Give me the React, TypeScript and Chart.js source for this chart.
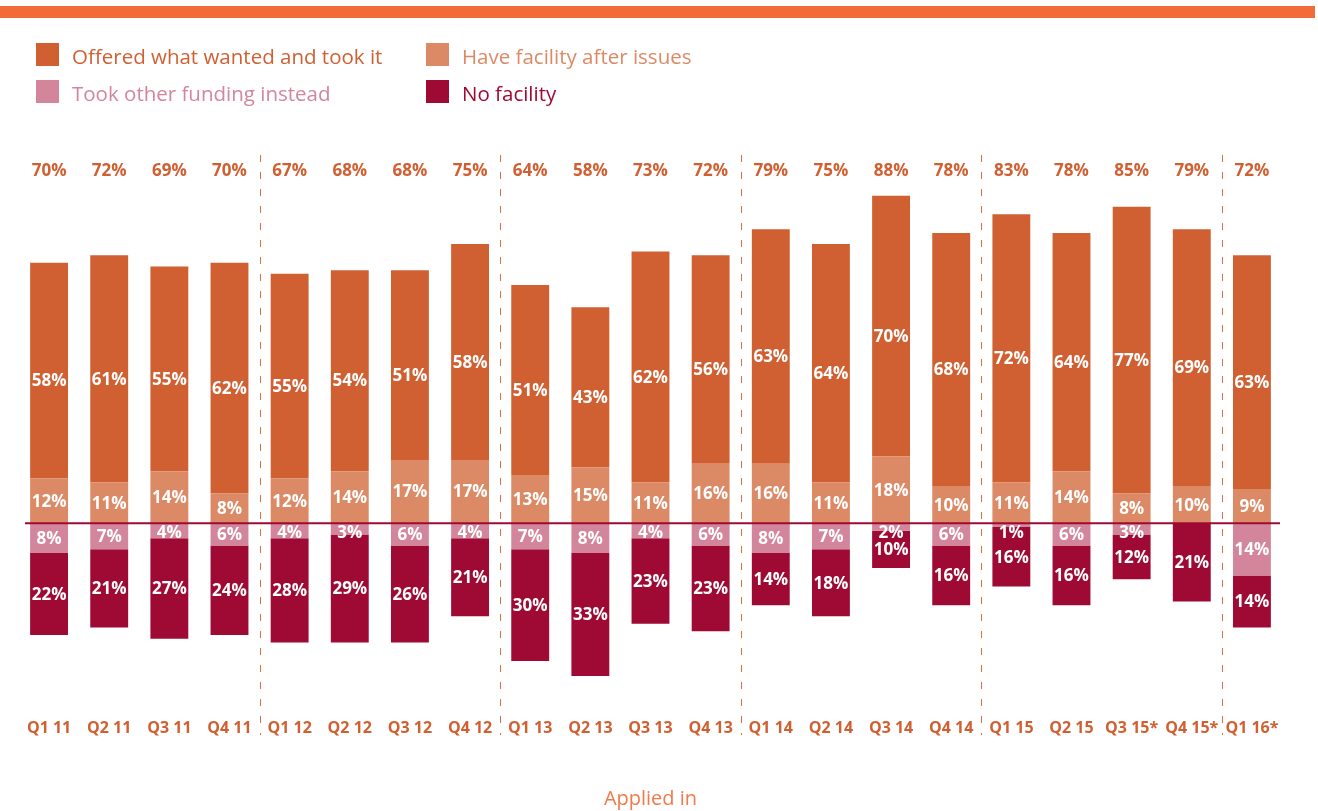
import React, { useEffect, useRef } from "react";
import { Chart, registerables } from "chart.js";

Chart.register(...registerables);

const quarters = [
  "Q1 11", "Q2 11", "Q3 11", "Q4 11",
  "Q1 12", "Q2 12", "Q3 12", "Q4 12",
  "Q1 13", "Q2 13", "Q3 13", "Q4 13",
  "Q1 14", "Q2 14", "Q3 14", "Q4 14",
  "Q1 15", "Q2 15", "Q3 15*", "Q4 15*",
  "Q1 16*",
];
const offeredTook = [58, 61, 55, 62, 55, 54, 51, 58, 51, 43, 62, 56, 63, 64, 70, 68, 72, 64, 77, 69, 63];
const facilityAfterIssues = [12, 11, 14, 8, 12, 14, 17, 17, 13, 15, 11, 16, 16, 11, 18, 10, 11, 14, 8, 10, 9];
const otherFunding = [8, 7, 4, 6, 4, 3, 6, 4, 7, 8, 4, 6, 8, 7, 2, 6, 1, 6, 3, 0, 14];
const noFacility = [22, 21, 27, 24, 28, 29, 26, 21, 30, 33, 23, 23, 14, 18, 10, 16, 16, 16, 12, 21, 14];
const totals = [70, 72, 69, 70, 67, 68, 68, 75, 64, 58, 73, 72, 79, 75, 88, 78, 83, 78, 85, 79, 72];
const yearBreaksAfter = [3, 7, 11, 15, 19];

const C_OFFERED = "#D06032";
const C_FACILITY = "#DC8966";
const C_OTHER = "#D3869B";
const C_NOFAC = "#9E0A33";
const C_TOP = "#F26B38";
const FONT = "'Open Sans', sans-serif";

const overlayPlugin = {
  id: "overlay",
  beforeDatasetsDraw(chart: any) {
    const ctx = chart.ctx;
    const xs = chart.scales.x;
    ctx.save();
    ctx.strokeStyle = "#D9703F";
    ctx.lineWidth = 1;
    ctx.setLineDash([7, 10]);
    yearBreaksAfter.forEach((i) => {
      const x = Math.round((xs.getPixelForValue(i) + xs.getPixelForValue(i + 1)) / 2) + 0.5;
      ctx.beginPath();
      ctx.moveTo(x, chart.chartArea.top + 4);
      ctx.lineTo(x, chart.chartArea.bottom + 36);
      ctx.stroke();
    });
    ctx.restore();
  },
  afterDatasetsDraw(chart: any) {
    const ctx = chart.ctx;
    const xs = chart.scales.x;
    const ys = chart.scales.y;
    const zero = ys.getPixelForValue(0);
    const area = chart.chartArea;
    ctx.save();
    // zero line
    ctx.strokeStyle = C_NOFAC;
    ctx.lineWidth = 2;
    ctx.beginPath();
    ctx.moveTo(area.left + 6, zero);
    ctx.lineTo(area.right - 2, zero);
    ctx.stroke();

    // segment labels
    ctx.fillStyle = "#FFFFFF";
    ctx.font = `bold 17px ${FONT}`;
    ctx.textAlign = "center";
    ctx.textBaseline = "middle";
    chart.data.datasets.forEach((ds: any, di: number) => {
      const meta = chart.getDatasetMeta(di);
      meta.data.forEach((bar: any, i: number) => {
        const v = ds.data[i];
        if (!v) return;
        const p = bar.getProps(["x", "y", "base"], true);
        let cy = (p.y + p.base) / 2;
        if (v < 0) cy = Math.max(cy, zero + 9);
        else cy = Math.min(cy, zero - 9);
        if (ds.label.startsWith("Offered")) cy += 10;
        ctx.fillText(`${Math.abs(v)}%`, p.x, cy + 1);
      });
    });

    // totals row
    ctx.fillStyle = C_OFFERED;
    totals.forEach((t, i) => {
      ctx.fillText(`${t}%`, xs.getPixelForValue(i), area.top + 20);
    });
    ctx.restore();
  },
};

function LegendItem({ color, text, left, top }: { color: string; text: string; left: number; top: number }) {
  return (
    <div style={{ position: "absolute", left, top, height: 23, display: "flex", alignItems: "center" }}>
      <div style={{ width: 23, height: 23, background: color, flex: "none" }} />
      <div
        style={{
          marginLeft: 13,
          paddingTop: 3,
          color,
          fontFamily: FONT,
          fontSize: 20.5,
          lineHeight: "23px",
          whiteSpace: "nowrap",
        }}
      >
        {text}
      </div>
    </div>
  );
}

export default function App() {
  const ref = useRef<HTMLCanvasElement | null>(null);

  useEffect(() => {
    if (!ref.current) return;
    const chart = new Chart(ref.current, {
      type: "bar",
      data: {
        labels: quarters,
        datasets: [
          { label: "Have facility after issues", data: facilityAfterIssues, backgroundColor: C_FACILITY },
          { label: "Offered what wanted and took it", data: offeredTook, backgroundColor: C_OFFERED },
          { label: "Took other funding instead", data: otherFunding.map((v) => -v), backgroundColor: C_OTHER },
          { label: "No facility", data: noFacility.map((v) => -v), backgroundColor: C_NOFAC },
        ].map((d) => ({ ...d, borderWidth: 0, barPercentage: 0.63, categoryPercentage: 1 })),
      },
      options: {
        responsive: false,
        animation: false,
        layout: { padding: { top: 151, left: 19, right: 36, bottom: 0 } },
        plugins: { legend: { display: false }, tooltip: { enabled: false } },
        scales: {
          x: {
            stacked: true,
            grid: { display: false, drawTicks: false },
            border: { display: false },
            ticks: {
              padding: 20,
              color: C_OFFERED,
              font: { family: FONT, size: 16, weight: "bold" },
              maxRotation: 0,
              autoSkip: false,
            },
            title: {
              display: true,
              text: "Applied in",
              color: "#F07A4A",
              font: { family: FONT, size: 20, weight: "normal" },
              padding: { top: 30, bottom: 0 },
            },
            afterFit: (scale: any) => {
              scale.height = 112;
            },
          },
          y: { stacked: true, display: false, min: -47.2, max: 100 },
        },
      },
      plugins: [overlayPlugin],
    });
    return () => chart.destroy();
  }, []);

  return (
    <div style={{ position: "absolute", left: 0, top: 0, width: 1318, height: 811, background: "#fff", overflow: "hidden" }}>
      <div style={{ position: "absolute", left: 0, top: 6, width: 1315, height: 12, background: C_TOP }} />
      <canvas ref={ref} width={1318} height={811} style={{ position: "absolute", left: 0, top: 0, display: "block" }} />
      <LegendItem color={C_OFFERED} text="Offered what wanted and took it" left={36} top={43} />
      <LegendItem color={C_FACILITY} text="Have facility after issues" left={426} top={43} />
      <LegendItem color={C_OTHER} text="Took other funding instead" left={36} top={80} />
      <LegendItem color={C_NOFAC} text="No facility" left={426} top={80} />
    </div>
  );
}
